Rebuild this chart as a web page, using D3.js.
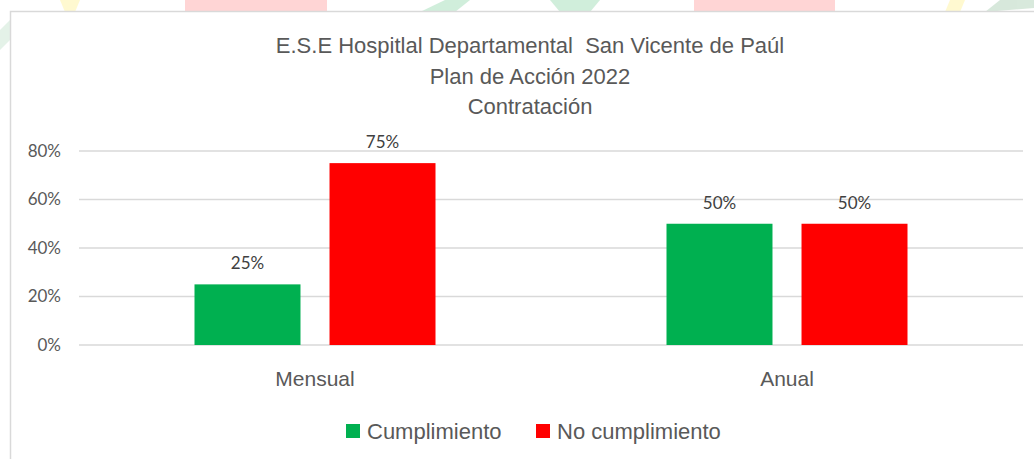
<!DOCTYPE html>
<html>
<head>
<meta charset="utf-8">
<script src="https://cdn.jsdelivr.net/npm/d3@7"></script>
<style>
  body { margin: 0; background: #fff; }
  svg { display: block; }
</style>
</head>
<body>
<div id="chart"></div>
<script>
const categories = ["Mensual", "Anual"];
const seriesNames = ["Cumplimiento", "No cumplimiento"];
const cumplimiento = [0.25, 0.50];
const noCumplimiento = [0.75, 0.50];
const yTicks = [0, 0.2, 0.4, 0.6, 0.8];
const titleLines = ["E.S.E Hospitlal Departamental  San Vicente de Paúl", "Plan de Acción 2022", "Contratación"];

const colors = ["#00b050", "#ff0000"];
const narrow = "'Liberation Sans Narrow', 'Liberation Sans', sans-serif";
const tickFont = "Lato, 'Open Sans', sans-serif";

const width = 1034, height = 459;
const svg = d3.select("#chart")
    .append("svg")
    .attr("width", width)
    .attr("height", height);

// faint watermark behind the chart box
const wm = svg.append("g").attr("opacity", 0.35);
wm.append("rect").attr("x", 185).attr("y", 0).attr("width", 142).attr("height", 12).attr("fill", "#ff8a8a");
wm.append("rect").attr("x", 694).attr("y", 0).attr("width", 141).attr("height", 12).attr("fill", "#ff8a8a");
wm.append("path").attr("d", "M420,12 L445,0 L470,0 L455,12 Z").attr("fill", "#7ccf9a");
wm.append("path").attr("d", "M550,0 L600,0 L590,12 L560,12 Z").attr("fill", "#7ccf9a");
wm.append("path").attr("d", "M60,0 L80,0 L75,12 L65,12 Z").attr("fill", "#fff07a");
wm.append("path").attr("d", "M945,12 L950,0 L965,0 L960,12 Z").attr("fill", "#fff07a");
wm.append("path").attr("d", "M985,12 L1000,0 L1034,0 L1034,8 Z").attr("fill", "#8fbf9a");
wm.append("path").attr("d", "M0,30 L10,20 L10,40 L0,50 Z").attr("fill", "#b5dcc0");

// chart box
svg.append("rect")
    .attr("x", 10.5).attr("y", 11.5)
    .attr("width", 1040).attr("height", 460)
    .attr("fill", "#fff")
    .attr("stroke", "#d9d9d9")
    .attr("stroke-width", 1.5);

// title
svg.append("g").selectAll("text")
    .data(titleLines)
    .enter()
    .append("text")
    .attr("x", 530)
    .attr("y", (d, i) => 53 + i * 30.5)
    .attr("text-anchor", "middle")
    .attr("font-family", narrow)
    .attr("font-size", 22)
    .attr("fill", "#595959")
    .style("white-space", "pre")
    .text(d => d);

const x0 = d3.scaleBand()
    .domain(categories)
    .range([79, 1023]);

const x1 = d3.scaleBand()
    .domain(seriesNames)
    .range([0, 241])
    .paddingInner(0.215);

const y = d3.scaleLinear()
    .domain([0, 0.8])
    .range([345, 151]);

// gridlines
svg.append("g").selectAll("line")
    .data(yTicks)
    .enter()
    .append("line")
    .attr("x1", 79).attr("x2", 1023)
    .attr("y1", d => y(d)).attr("y2", d => y(d))
    .attr("stroke", "#d9d9d9")
    .attr("stroke-width", 1.5);

// y axis labels
const yAxis = svg.append("g")
    .attr("transform", "translate(61,0)")
    .call(d3.axisLeft(y).tickValues(yTicks).tickFormat(d3.format(".0%")).tickSize(0).tickPadding(0));
yAxis.select(".domain").remove();
yAxis.selectAll("text")
    .attr("font-family", tickFont)
    .attr("font-size", 17)
    .attr("fill", "#595959");

// x axis labels
const xAxis = svg.append("g")
    .attr("transform", "translate(0,370)")
    .call(d3.axisBottom(x0).tickSize(0).tickPadding(0));
xAxis.select(".domain").remove();
xAxis.selectAll("text")
    .attr("dy", "0.75em")
    .attr("font-family", narrow)
    .attr("font-size", 21)
    .attr("fill", "#595959");

const rows = categories.map((c, i) => ({
    cat: c,
    values: [
        { name: seriesNames[0], v: cumplimiento[i], color: colors[0] },
        { name: seriesNames[1], v: noCumplimiento[i], color: colors[1] }
    ]
}));

const groups = svg.append("g").selectAll("g")
    .data(rows)
    .enter()
    .append("g")
    .attr("transform", d => `translate(${x0(d.cat) + x0.bandwidth() / 2 - 120.5},0)`);

groups.selectAll("rect")
    .data(d => d.values)
    .enter()
    .append("rect")
    .attr("x", d => x1(d.name))
    .attr("y", d => y(d.v))
    .attr("width", x1.bandwidth())
    .attr("height", d => y(0) - y(d.v))
    .attr("fill", d => d.color);

groups.selectAll("text")
    .data(d => d.values)
    .enter()
    .append("text")
    .attr("x", d => x1(d.name) + x1.bandwidth() / 2)
    .attr("y", d => y(d.v) - 15)
    .attr("text-anchor", "middle")
    .attr("font-family", tickFont)
    .attr("font-size", 17)
    .attr("fill", "#404040")
    .text(d => d3.format(".0%")(d.v));

// legend
const legendX = [346, 536];
const legend = svg.append("g").selectAll("g")
    .data(seriesNames)
    .enter()
    .append("g")
    .attr("transform", (d, i) => `translate(${legendX[i]},424)`);
legend.append("rect")
    .attr("width", 14).attr("height", 14)
    .attr("fill", (d, i) => colors[i]);
legend.append("text")
    .attr("x", 21)
    .attr("y", 15)
    .attr("font-family", narrow)
    .attr("font-size", 22)
    .attr("fill", "#595959")
    .text(d => d);
</script>
</body>
</html>
